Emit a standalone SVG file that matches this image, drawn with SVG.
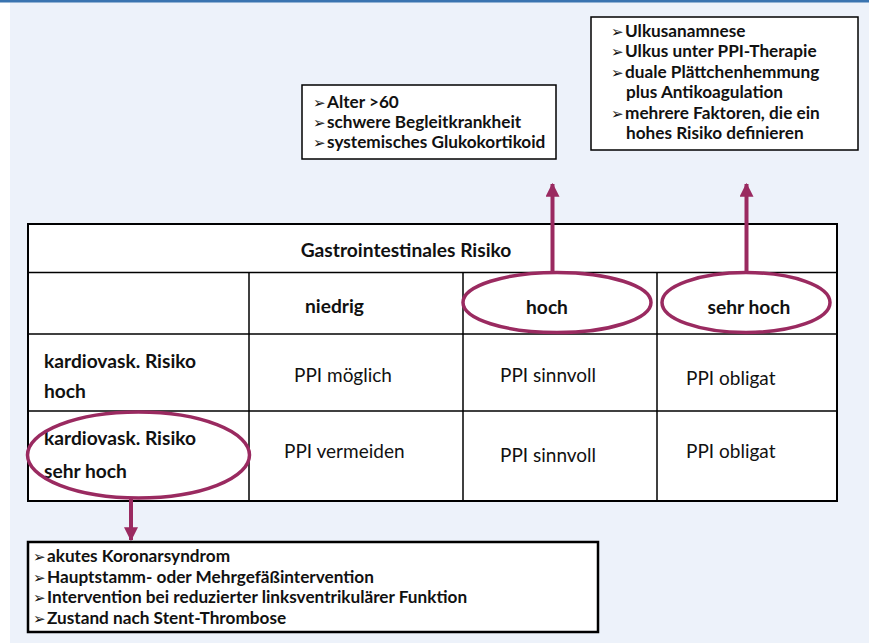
<svg xmlns="http://www.w3.org/2000/svg" width="869" height="643" viewBox="0 0 869 643">
<style>
.bg{fill:#EDF2FA}
.box{fill:#fff;stroke:#000;stroke-width:1.5}
.grid{stroke:#000;stroke-width:1.5;fill:none}
.ell{fill:none;stroke:#9A2A60;stroke-width:3.5}
.con{stroke:#9A2A60;stroke-width:4;fill:none}
.b{font-family:Lato,"Liberation Sans",sans-serif;font-weight:bold;font-size:19.2px;fill:#111}
.r{font-family:Lato,"Liberation Sans",sans-serif;font-size:19px;fill:#111}
.li{font-family:Lato,"Liberation Sans",sans-serif;font-weight:bold;font-size:17.2px;fill:#111}
.bu{font-family:"DejaVu Sans",sans-serif;font-weight:normal;font-size:15px;fill:#111}
</style>
<defs>
<marker id="ah" markerUnits="userSpaceOnUse" markerWidth="14" markerHeight="14" refX="11" refY="6" orient="auto" viewBox="0 0 12 12">
<path d="M0,0 L12,6 L0,12 Z" fill="#9A2A60"/>
</marker>
</defs>
<rect x="0" y="0" width="869" height="643" fill="#fff"/>
<rect class="bg" x="10" y="2" width="859" height="641"/>
<rect x="0" y="0" width="869" height="2.5" fill="#3A74B0"/>

<g id="table">
<rect x="28" y="224" width="809" height="277" fill="#fff" stroke="#000" stroke-width="2"/>
<line class="grid" x1="28" y1="272.5" x2="837" y2="272.5"/>
<line class="grid" x1="28" y1="334" x2="837" y2="334"/>
<line class="grid" x1="28" y1="411" x2="837" y2="411"/>
<line class="grid" x1="249" y1="272.5" x2="249" y2="501"/>
<line class="grid" x1="463" y1="272.5" x2="463" y2="501"/>
<line class="grid" x1="657" y1="272.5" x2="657" y2="501"/>
<text class="b" x="406" y="257" text-anchor="middle">Gastrointestinales Risiko</text>
<text class="b" x="305" y="313">niedrig</text>
<text class="b" x="547" y="314" text-anchor="middle">hoch</text>
<text class="b" x="749" y="314" text-anchor="middle">sehr hoch</text>
<text class="b" x="44" y="368">kardiovask. Risiko</text>
<text class="b" x="44" y="398">hoch</text>
<text class="b" x="44" y="445">kardiovask. Risiko</text>
<text class="b" x="44" y="478">sehr hoch</text>
<text class="r" x="294" y="382">PPI möglich</text>
<text class="r" x="284" y="458">PPI vermeiden</text>
<text class="r" x="500" y="382">PPI sinnvoll</text>
<text class="r" x="500" y="462">PPI sinnvoll</text>
<text class="r" x="686" y="385">PPI obligat</text>
<text class="r" x="686" y="458">PPI obligat</text>
</g>

<g id="ellipse-hoch"><ellipse class="ell" cx="557" cy="302.5" rx="94" ry="30"/></g>
<g id="ellipse-sehr-hoch"><ellipse class="ell" cx="746" cy="302.5" rx="84" ry="30"/></g>
<g id="ellipse-kardio"><ellipse class="ell" cx="138.5" cy="455" rx="111" ry="43"/></g>

<g id="connectors">
<line class="con" x1="552.5" y1="272" x2="552.5" y2="184" marker-end="url(#ah)"/>
<line class="con" x1="746.5" y1="272" x2="746.5" y2="184" marker-end="url(#ah)"/>
<line class="con" x1="131" y1="498" x2="131" y2="540" marker-end="url(#ah)"/>
</g>

<g id="box-hoch">
<rect class="box" x="302" y="85" width="254" height="74"/>
<text class="bu" x="313" y="108">➢</text>
<text class="bu" x="313" y="128">➢</text>
<text class="bu" x="313" y="148">➢</text>
<text class="li" x="327" y="108">Alter &gt;60</text>
<text class="li" x="327" y="128">schwere Begleitkrankheit</text>
<text class="li" x="327" y="148">systemisches Glukokortikoid</text>
</g>

<g id="box-sehr-hoch">
<rect class="box" x="591" y="17" width="267" height="133"/>
<text class="bu" x="611" y="37">➢</text>
<text class="bu" x="611" y="57">➢</text>
<text class="bu" x="611" y="78">➢</text>
<text class="bu" x="611" y="119">➢</text>
<text class="li" x="625" y="37">Ulkusanamnese</text>
<text class="li" x="625" y="57">Ulkus unter PPI-Therapie</text>
<text class="li" x="625" y="78">duale Plättchenhemmung</text>
<text class="li" x="626" y="98">plus Antikoagulation</text>
<text class="li" x="625" y="119">mehrere Faktoren, die ein</text>
<text class="li" x="626" y="139">hohes Risiko definieren</text>
</g>

<g id="box-kardio">
<rect x="28" y="542" width="570" height="90" fill="#fff" stroke="#000" stroke-width="2.5"/>
<text class="bu" x="33" y="562">➢</text>
<text class="bu" x="33" y="583">➢</text>
<text class="bu" x="33" y="603">➢</text>
<text class="bu" x="33" y="624">➢</text>
<text class="li" x="47" y="562">akutes Koronarsyndrom</text>
<text class="li" x="47" y="583">Hauptstamm- oder Mehrgefäßintervention</text>
<text class="li" x="47" y="603">Intervention bei reduzierter linksventrikulärer Funktion</text>
<text class="li" x="47" y="624">Zustand nach Stent-Thrombose</text>
</g>
</svg>
